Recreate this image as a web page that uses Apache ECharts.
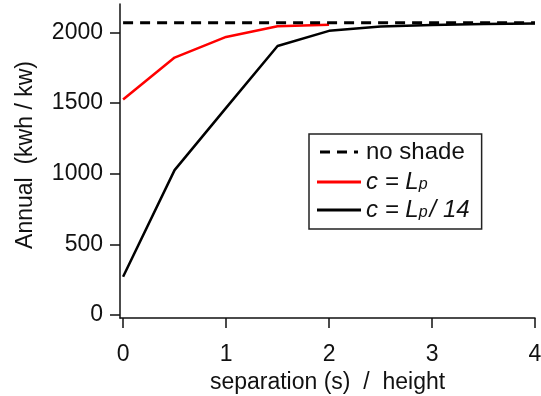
<!DOCTYPE html>
<html>
<head>
<meta charset="utf-8">
<script src="https://cdn.jsdelivr.net/npm/echarts@6/dist/echarts.min.js"></script>
<style>
  html, body { margin: 0; padding: 0; background: #fff; }
  #chart { width: 541px; height: 396px; }
</style>
</head>
<body>
<div id="chart"></div>
<script>
// separation / height
const sepX = [0, 0.5, 1, 1.5, 2, 2.5, 3, 3.5, 4];
const lpY = [1524, 1821, 1967, 2042, 2054];          // c = Lp (stops at 2)
const lp14Y = [271, 1025, 1465, 1903, 2010, 2040, 2052, 2058, 2062]; // c = Lp / 14
const noShadeX = [0, 4];
const noShadeY = [2068, 2068];
const xTicks = [0, 1, 2, 3, 4];
const yTicks = [0, 500, 1000, 1500, 2000];

const chart = echarts.init(document.getElementById('chart'));
const font = 'Liberation Sans, Arial, sans-serif';

const pairs = (xs, ys) => ys.map((v, i) => [xs[i], v]);

// legend icons: thin bar, dashed bar
const solidIcon = 'path://M0,0h44v3h-44z';
const dashIcon = 'path://M0,0h10v3h-10z M17,0h10v3h-10z M34,0h4v3h-4z';

const option = {
  animation: false,
  textStyle: { fontFamily: font },
  grid: { left: 120, right: 6, top: 4, bottom: 78, outerBoundsMode: 'none', containLabel: false },
  legend: {
    orient: 'vertical',
    left: 309,
    top: 134,
    data: [
      { name: 'no shade', icon: dashIcon },
      { name: 'c = Lp', icon: solidIcon },
      { name: 'c = Lp / 14', icon: solidIcon }
    ],
    itemWidth: 44,
    itemHeight: 3,
    itemGap: 3,
    itemTextGap: 12,
    padding: [4, 12, 7, 8],
    borderColor: '#222',
    borderWidth: 1.5,
    borderRadius: 0,
    backgroundColor: '#fff',
    textStyle: {
      fontSize: 24,
      color: '#111',
      rich: {
        n: { fontSize: 24, lineHeight: 22, padding: [2, 0, 2, 0], color: '#111' },
        i: { fontSize: 24, lineHeight: 22, fontStyle: 'italic', color: '#111' },
        sub: { fontSize: 16, lineHeight: 18, fontStyle: 'italic', color: '#111', verticalAlign: 'bottom', padding: [8, 2, 0, 0] }
      }
    },
    formatter: function (name) {
      if (name === 'c = Lp') return '{i|c = L}{sub|p}';
      if (name === 'c = Lp / 14') return '{i|c = L}{sub|p}{i|/ 14}';
      return '{n|' + name + '}';
    }
  },
  xAxis: {
    type: 'value',
    min: -0.03,
    max: 4,
    name: 'separation (s)  /  height',
    nameLocation: 'middle',
    nameGap: 53,
    nameTextStyle: { fontSize: 23, color: '#111' },
    axisLine: { onZero: false, lineStyle: { color: '#111', width: 1.5 } },
    axisTick: { inside: false, length: 10, customValues: xTicks, lineStyle: { color: '#111', width: 1.5 } },
    axisLabel: { fontSize: 23, color: '#111', margin: 25, customValues: xTicks },
    splitLine: { show: false }
  },
  yAxis: {
    type: 'value',
    min: -21,
    max: 2200,
    name: 'Annual  (kwh / kw)',
    nameLocation: 'middle',
    nameGap: 83,
    nameTextStyle: { fontSize: 23, color: '#111', padding: [0, 0, 0, 12] },
    axisLine: { onZero: false, lineStyle: { color: '#111', width: 1.5 } },
    axisTick: { inside: false, length: 10, customValues: yTicks, lineStyle: { color: '#111', width: 1.5 } },
    axisLabel: {
      fontSize: 23, color: '#111', margin: 17, customValues: yTicks,
      formatter: function (v) { return String(v); }
    },
    splitLine: { show: false }
  },
  series: [
    {
      name: 'no shade',
      type: 'line',
      symbol: 'none',
      data: pairs(noShadeX, noShadeY),
      lineStyle: { color: '#000', width: 3, type: [10, 7] },
      itemStyle: { color: '#000' },
      z: 3
    },
    {
      name: 'c = Lp',
      type: 'line',
      symbol: 'none',
      data: pairs(sepX, lpY),
      lineStyle: { color: '#f00', width: 2.5 },
      itemStyle: { color: '#f00' },
      z: 2
    },
    {
      name: 'c = Lp / 14',
      type: 'line',
      symbol: 'none',
      data: pairs(sepX, lp14Y),
      lineStyle: { color: '#000', width: 2.5 },
      itemStyle: { color: '#000' },
      z: 1
    }
  ]
};

chart.setOption(option);
</script>
</body>
</html>
